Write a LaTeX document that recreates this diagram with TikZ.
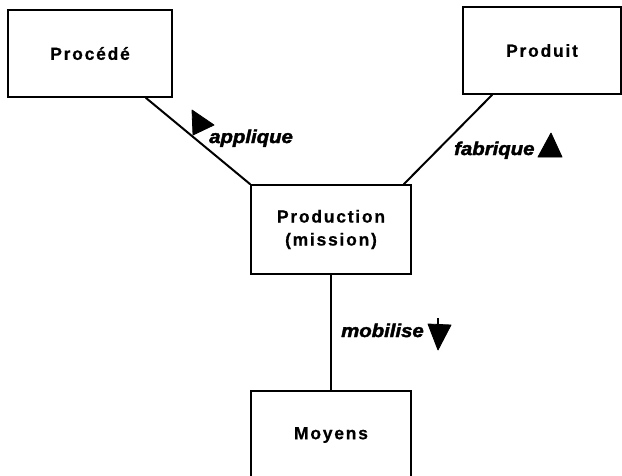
\documentclass[tikz,border=0pt]{standalone}
\usepackage{fontspec}
\setmainfont{Liberation Sans}
\newfontfamily\boxfont[LetterSpace=10,FakeBold=0.6]{Liberation Sans Bold}
\newfontfamily\verbfont[FakeStretch=1.1,FakeBold=2.2]{Liberation Sans Bold Italic}
\usetikzlibrary{calc}
\tikzset{
  entity/.style={draw, line width=1.5pt, fill=white, inner sep=0pt,
    minimum width=160pt, minimum height=88pt, align=center,
    font=\boxfont\fontsize{17.5}{23}\selectfont},
  link/.style={line width=2pt},
  verb/.style={anchor=base west, inner sep=0pt, font=\verbfont\fontsize{18.5}{20}\selectfont},
  sens/.style={fill=black, draw=black, line width=0.8pt, line join=round}
}
\begin{document}
\begin{tikzpicture}[x=1pt,y=-1pt]
\clip (0,0) rectangle (622,475);
\fill[white] (0,0) rectangle (622,475);

% entities
\node[entity, minimum width=164pt, minimum height=87pt] (proc) at (90,53.5) {Procédé};
\node[entity, minimum width=158pt, minimum height=87pt] (prodt) at (542,50.5) {Produit};
\node[entity, minimum height=89pt] (prod) at (331,229.5) {Production\\(mission)};
\node[entity] (moy) at (331,435) {Moyens};

% associations
\draw[link] ($(proc.south east)+(-27,0)$) -- (prod.north west);
\draw[link] ($(prodt.south west)+(30,0)$) -- ($(prod.north east)+(-8,0)$);
\draw[link] (prod.south) -- (moy.north);

% association names with reading direction
\node[verb] (lapp) at (209,143) {applique};
\node[verb] (lfab) at (454,155) {fabrique};
\node[verb] (lmob) at (341,337) {mobilise};

\filldraw[sens] (192,110) -- (214,125) -- (193,135) -- cycle;
\filldraw[sens] (551,133) -- (562,157) -- (538,157) -- cycle;
\filldraw[sens] (428,324) -- (451,325) -- (438,350) -- cycle;
\draw[line width=2pt] (438,318) -- (438,325);
\end{tikzpicture}
\end{document}
